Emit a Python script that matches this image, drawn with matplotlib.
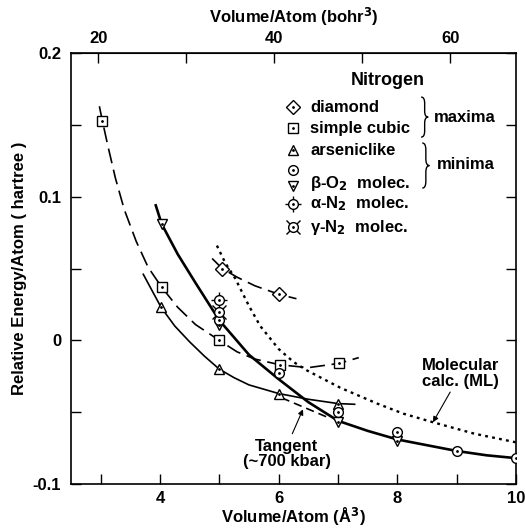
"""Nitrogen: relative energy per atom vs. volume per atom."""

import numpy as np
import matplotlib.pyplot as plt
from matplotlib.path import Path
from matplotlib.patches import PathPatch

plt.rcParams["font.family"] = ["Liberation Sans", "DejaVu Sans"]
plt.rcParams["font.weight"] = "bold"
plt.rcParams["axes.labelweight"] = "bold"
plt.rcParams["mathtext.default"] = "regular"

BOHR3_PER_A3 = 6.748

# curves (volume in A^3, energy in hartree)
mol_x = [3.93, 4.03, 4.3, 4.6, 5.0, 5.5, 6.0, 6.5, 7.0, 7.5, 8.0, 8.5, 9.0, 9.5, 10.0]
mol_y = [0.094, 0.081, 0.060, 0.040, 0.014, -0.010, -0.027, -0.043, -0.056,
         -0.063, -0.069, -0.073, -0.077, -0.080, -0.082]

ars_x = [3.72, 3.85, 4.02, 4.25, 4.5, 4.75, 5.0, 5.25, 5.5, 5.75, 6.0, 6.5, 7.0, 7.28]
ars_y = [0.046, 0.036, 0.023, 0.010, -0.001, -0.011, -0.020, -0.026, -0.031,
         -0.034, -0.037, -0.041, -0.044, -0.0445]

sc_x = [2.98, 3.03, 3.12, 3.25, 3.4, 3.6, 3.8, 4.03, 4.3, 4.6, 5.0, 5.3, 5.6,
        6.02, 6.5, 7.02, 7.35]
sc_y = [0.163, 0.153, 0.136, 0.113, 0.091, 0.069, 0.051, 0.037, 0.023, 0.011,
        0.0, -0.008, -0.013, -0.017, -0.019, -0.016, -0.012]

dia_x = [4.88, 5.05, 5.3, 5.6, 6.01, 6.3]
dia_y = [0.057, 0.050, 0.044, 0.038, 0.032, 0.029]

ml_x = [4.96, 5.1, 5.27, 5.5, 5.69, 6.0, 6.25, 6.48, 7.04, 7.66, 8.1, 8.6,
        9.3, 10.0]
ml_y = [0.066, 0.054, 0.043, 0.024, 0.010, -0.006, -0.015, -0.021, -0.033,
        -0.044, -0.051, -0.057, -0.065, -0.071]

tan_x = [6.05, 6.85]
tan_y = [-0.040, -0.054]

# computed points
pts_dia_x = [5.05, 6.01]
pts_dia_y = [0.050, 0.032]
pts_sc_x = [3.03, 4.03, 5.0, 6.02, 7.02]
pts_sc_y = [0.153, 0.037, 0.0, -0.017, -0.016]
pts_ars_x = [4.02, 5.0, 6.0, 7.0]
pts_ars_y = [0.023, -0.020, -0.037, -0.044]
pts_bo2c_x = [5.0, 6.0, 7.0, 8.0, 9.0, 10.0]
pts_bo2c_y = [0.014, -0.023, -0.050, -0.064, -0.077, -0.082]
pts_bo2t_x = [4.03, 5.0, 7.0, 8.0]
pts_bo2t_y = [0.081, 0.011, -0.057, -0.070]
pts_an2_x = [5.0]
pts_an2_y = [0.028]
pts_gn2_x = [5.0]
pts_gn2_y = [0.020]


def mark(ax, x, y, kind, **kw):
    base = dict(ls="none", mfc="white", mec="black", mew=1.0, zorder=5)
    base.update(kw)
    if kind == "alpha":
        ax.plot(x, y, marker="+", ms=12, mew=1.0, color="black", ls="none", zorder=4, **kw)
        ax.plot(x, y, marker="o", ms=7, **base)
    elif kind == "gamma":
        ax.plot(x, y, marker="x", ms=10, mew=1.0, color="black", ls="none", zorder=4, **kw)
        ax.plot(x, y, marker="o", ms=7, **base)
    else:
        ms = {"D": 7, "s": 7, "^": 7.5, "o": 7, "v": 7.5}[kind]
        ax.plot(x, y, marker=kind, ms=ms, **base)
    ax.plot(x, y, marker=".", ms=2, color="black", ls="none", zorder=6, **kw)


def brace(ax, x, y0, y1, w):
    ym = (y0 + y1) / 2
    h = (y1 - y0) / 2
    xm = x + 0.5 * w
    verts = [(x, y1), (xm, y1), (xm, y1 - 0.3 * h), (xm, ym + 0.3 * h),
             (xm, ym), (x + w, ym), (xm, ym), (xm, ym - 0.3 * h),
             (xm, y0 + 0.3 * h), (xm, y0), (x, y0)]
    codes = [Path.MOVETO, Path.CURVE3, Path.CURVE3, Path.LINETO,
             Path.CURVE3, Path.CURVE3, Path.CURVE3, Path.CURVE3,
             Path.LINETO, Path.CURVE3, Path.CURVE3]
    ax.add_patch(PathPatch(Path(verts, codes), fc="none", ec="black", lw=1.0,
                           clip_on=False))


fig = plt.figure(figsize=(5.25, 5.31), dpi=100)
ax = fig.add_axes([0.135, 0.0885, 0.848, 0.8115])

ax.plot(mol_x, mol_y, color="black", lw=1.9)
ax.plot(ars_x, ars_y, color="black", lw=1.2)
ax.plot(sc_x, sc_y, color="black", lw=1.2, dashes=(9, 4))
ax.plot(dia_x, dia_y, color="black", lw=1.2, dashes=(9, 4))
ax.plot(ml_x, ml_y, color="black", lw=1.7, dashes=(1.2, 1.8))
ax.plot(tan_x, tan_y, color="black", lw=1.2, dashes=(5, 3))

mark(ax, pts_dia_x, pts_dia_y, "D")
mark(ax, pts_sc_x, pts_sc_y, "s")
mark(ax, pts_ars_x, pts_ars_y, "^")
mark(ax, pts_bo2t_x, pts_bo2t_y, "v")
mark(ax, pts_bo2c_x, pts_bo2c_y, "o")
mark(ax, pts_an2_x, pts_an2_y, "alpha")
mark(ax, pts_gn2_x, pts_gn2_y, "gamma")

# legend drawn by hand
ax.text(7.83, 0.181, "Nitrogen", ha="center", va="center", fontsize=13)
lx, tx = 6.24, 6.53
rows = [("D", 0.1624, 0.1624, "diamond"),
        ("s", 0.1478, 0.1478, "simple cubic"),
        ("^", 0.1325, 0.1325, "arseniclike"),
        ("alpha", 0.0949, 0.0949, r"$\alpha$-N$_\mathbf{2}$  molec."),
        ("gamma", 0.0789, 0.0789, r"$\gamma$-N$_\mathbf{2}$  molec.")]
for kind, my, ty, label in rows:
    mark(ax, [lx], [my], kind, clip_on=False)
    ax.text(tx, ty, label, ha="left", va="center", fontsize=12)
mark(ax, [lx], [0.1186], "o", clip_on=False)
mark(ax, [lx], [0.1075], "v", clip_on=False)
ax.text(tx, 0.1095, r"$\beta$-O$_\mathbf{2}$  molec.", ha="left", va="center", fontsize=12)

brace(ax, 8.40, 0.1415, 0.1694, 0.12)
brace(ax, 8.42, 0.1060, 0.1374, 0.12)
ax.text(8.62, 0.1555, "maxima", ha="left", va="center", fontsize=12)
ax.text(8.66, 0.1225, "minima", ha="left", va="center", fontsize=12)

ax.text(9.06, -0.023, "Molecular\ncalc. (ML)", ha="center", va="center",
        fontsize=12, linespacing=1.05)
ax.annotate("", xy=(8.6, -0.057), xytext=(8.89, -0.036),
            arrowprops=dict(arrowstyle="-|>", color="black", lw=0.8,
                            shrinkA=0, shrinkB=0, mutation_scale=8))
ax.text(6.14, -0.079, "Tangent\n(~700 kbar)", ha="center", va="center",
        fontsize=12, linespacing=1.05)
ax.annotate("", xy=(6.41, -0.048), xytext=(6.23, -0.065),
            arrowprops=dict(arrowstyle="-|>", color="black", lw=0.8,
                            shrinkA=0, shrinkB=0, mutation_scale=8))

ax.set_xlim(2.5, 10)
ax.set_ylim(-0.1, 0.2)
ax.set_xticks([4, 6, 8, 10])
ax.set_xticks([3, 5, 7, 9], minor=True)
ax.set_yticks([-0.1, 0, 0.1, 0.2])
ax.set_yticklabels(["-0.1", "0", "0.1", "0.2"])
ax.set_yticks([-0.05, 0.05, 0.15], minor=True)
ax.tick_params(which="both", direction="in", length=7, width=1.0,
               labelsize=12, right=True, top=False)
ax.tick_params(axis="x", pad=5)
ax.tick_params(axis="y", pad=7)
for s in ax.spines.values():
    s.set_linewidth(1.2)
ax.set_xlabel(r"Volume/Atom (Å$^\mathbf{3}$)", fontsize=12, labelpad=0)
ax.set_ylabel("Relative Energy/Atom ( hartree )", fontsize=12, labelpad=4)

top = ax.secondary_xaxis("top", functions=(lambda v: v * BOHR3_PER_A3,
                                           lambda b: b / BOHR3_PER_A3))
top.set_xticks([20, 40, 60])
top.set_xticks([30, 50], minor=True)
top.tick_params(which="both", direction="in", length=7, width=1.0,
                labelsize=12, pad=5)
top.set_xlabel(r"Volume/Atom (bohr$^\mathbf{3}$)", fontsize=12,
               fontweight="bold", labelpad=6)

fig.savefig("out.png", dpi=100)
